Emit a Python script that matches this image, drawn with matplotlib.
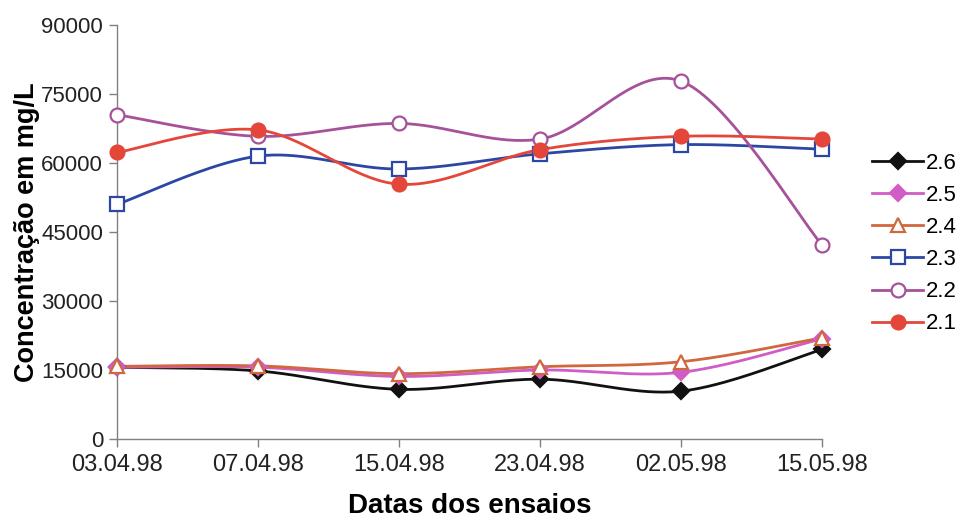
import numpy as np
import matplotlib
matplotlib.use("Agg")
import matplotlib.pyplot as plt
from matplotlib.lines import Line2D

# Sampling dates and measured concentrations (mg/L)
dates = ["03.04.98", "07.04.98", "15.04.98", "23.04.98", "02.05.98", "15.05.98"]
s26 = [15600, 14800, 10800, 13000, 10400, 19500]
s25 = [15600, 15600, 13600, 15000, 14500, 21800]
s24 = [15800, 15900, 14200, 15700, 16800, 22000]
s23 = [51000, 61500, 58700, 62000, 64000, 63000]
s22 = [70500, 65800, 68600, 65200, 77800, 42200]
s21 = [62300, 67200, 55400, 62900, 65800, 65200]
yticks = [0, 15000, 30000, 45000, 60000, 75000, 90000]

plt.rcParams['font.family'] = ['Liberation Sans', 'DejaVu Sans']


def smooth(xs, ys, n=40):
    """Catmull-Rom style cubic Bezier through the points (spreadsheet 'smoothed line')."""
    p = np.column_stack([xs, ys]).astype(float)
    pts = [p[0]]
    m = len(p)
    for i in range(m - 1):
        p0 = p[i - 1] if i > 0 else p[i]
        p1 = p[i]
        p2 = p[i + 1]
        p3 = p[i + 2] if i + 2 < m else p[i + 1]
        c1 = p1 + (p2 - p0) / 6.0
        c2 = p2 - (p3 - p1) / 6.0
        t = np.linspace(0, 1, n)[1:, None]
        seg = ((1 - t) ** 3) * p1 + 3 * ((1 - t) ** 2) * t * c1 + 3 * (1 - t) * t ** 2 * c2 + t ** 3 * p2
        pts.extend(seg)
    pts = np.array(pts)
    return pts[:, 0], pts[:, 1]


fig = plt.figure(figsize=(9.68, 5.18), dpi=100)
ax = fig.add_axes([0.1209, 0.1525, 0.7283, 0.7992])

x = np.arange(len(dates))

series = [
    ("2.6", s26, "#111111", "D", "#111111", "#111111", 8),
    ("2.5", s25, "#d25cc6", "D", "#d25cc6", "#d25cc6", 8),
    ("2.4", s24, "#d0683f", "^", "white", "#d0683f", 10),
    ("2.3", s23, "#2b47a3", "s", "white", "#2b47a3", 9.5),
    ("2.2", s22, "#a6529b", "o", "white", "#a6529b", 10),
    ("2.1", s21, "#e4473a", "o", "#e4473a", "#e4473a", 10),
]

handles = []
for name, vals, col, mk, fc, ec, ms in series:
    sx, sy = smooth(x, vals)
    ax.plot(sx, sy, color=col, lw=2.0, zorder=2, solid_capstyle='round')
    ax.plot(x, vals, ls='none', marker=mk, ms=ms, mfc=fc, mec=ec, mew=1.6,
            zorder=3, clip_on=False)
    handles.append(Line2D([0], [0], color=col, lw=2.0, marker=mk, ms=ms,
                          mfc=fc, mec=ec, mew=1.6, label=name))

ax.set_xlim(0, len(dates) - 1)
ax.set_ylim(0, 90000)
ax.set_xticks(x)
ax.set_xticklabels(dates, fontsize=17)
ax.set_yticks(yticks)
ax.set_yticklabels([str(v) for v in yticks], fontsize=16)

for side in ("top", "right"):
    ax.spines[side].set_visible(False)
for side in ("left", "bottom"):
    ax.spines[side].set_color("#808080")
    ax.spines[side].set_linewidth(1.0)
ax.tick_params(axis='both', direction='out', length=6, width=1.0, color="#808080",
               labelcolor="#222222")
ax.tick_params(axis='x', pad=5)
ax.tick_params(axis='y', pad=4)

ax.set_xlabel("Datas dos ensaios", fontsize=20, fontweight='bold', labelpad=12)
ax.set_ylabel("Concentração em mg/L", fontsize=19.5, fontweight='bold', labelpad=1)

fig.legend(handles=handles, loc='upper left', bbox_to_anchor=(0.892, 0.722),
           frameon=False, fontsize=16, handlelength=2.3, handletextpad=0.1,
           labelspacing=0.5, borderaxespad=0)

fig.savefig("out.png", dpi=100, facecolor="white")
